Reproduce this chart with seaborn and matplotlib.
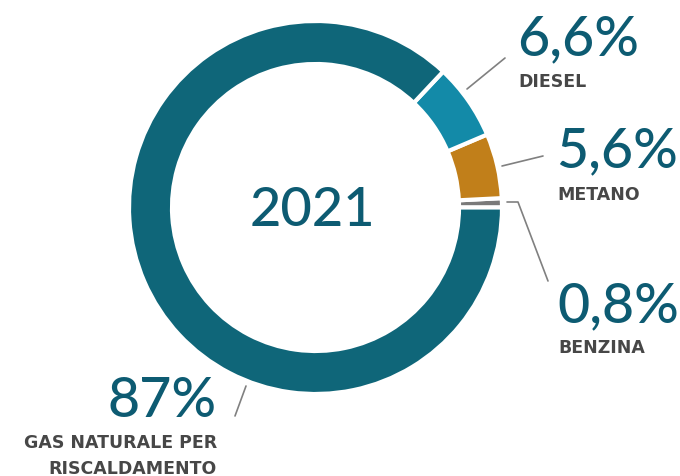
import matplotlib
matplotlib.use("Agg")
import matplotlib.pyplot as plt
import seaborn as sns

# data (order = counter-clockwise from 3 o'clock)
categories = ["BENZINA", "METANO", "DIESEL", "GAS NATURALE PER\nRISCALDAMENTO"]
shares = [0.8, 5.6, 6.6, 87.0]
pct_labels = ["0,8%", "5,6%", "6,6%", "87%"]
year = "2021"

colors = ["#7a7a7a", "#c17f1a", "#138aa8", "#0f6679"]
num_color = "#0d5b72"
lab_color = "#474747"
line_color = "#808080"

sns.set_theme(style="white")
plt.rcParams["font.family"] = ["Lato", "DejaVu Sans"]

W, H = 680, 477
fig = plt.figure(figsize=(W / 100, H / 100), dpi=100)
ax = fig.add_axes([0, 0, 1, 1])

cx, cy, r = 315.5, H - 208.5, 186.5
ax.pie(shares, colors=colors, startangle=0, counterclock=True,
       center=(cx, cy), radius=r,
       wedgeprops=dict(width=43, edgecolor="white", linewidth=3))

ax.set_xlim(0, W)
ax.set_ylim(0, H)
ax.set_aspect("equal")
ax.axis("off")

# center year
ax.text(cx - 3, H - 226, year, ha="center", va="baseline",
        fontsize=39, color=num_color, fontweight="medium")

# (number x, number baseline, label baseline, align)
label_pos = {
    "BENZINA": (557, 322, 353, "left"),
    "METANO": (556, 167, 200, "left"),
    "DIESEL": (517, 55, 87, "left"),
    "GAS NATURALE PER\nRISCALDAMENTO": (217, 417, 448, "right"),
}
for cat, pct in zip(categories, pct_labels):
    x, yb, yl, ha = label_pos[cat]
    ax.text(x, H - yb, pct, ha=ha, va="baseline", fontsize=40,
            color=num_color, fontweight="medium")
    lines = cat.split("\n")
    for i, ln in enumerate(lines):
        ax.text(x + (1 if ha == "left" else 0), H - yl - i * 26, ln, ha=ha,
                va="baseline", fontsize=12.5, fontweight="bold",
                color=lab_color, family=["DejaVu Sans"])

# leader lines
leaders = [
    ([467, 505], [90, 59]),
    ([502, 543], [167, 157]),
    ([507, 518, 548], [203, 203, 282]),
    ([235, 246], [417, 387]),
]
for xs, ys in leaders:
    ax.plot(xs, [H - y for y in ys], color=line_color, lw=1.2)

fig.savefig("out.png", dpi=100)
